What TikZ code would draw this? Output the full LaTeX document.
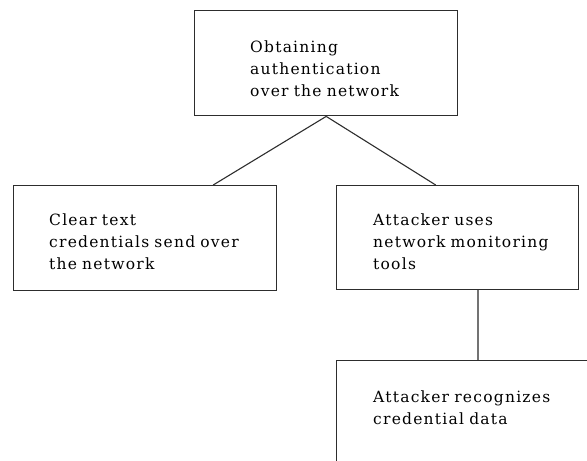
\documentclass[tikz,border=0pt]{standalone}
\usepackage{fontspec}
\setmainfont[LetterSpace=8]{DejaVu Serif}
\definecolor{edge}{RGB}{45,45,45}
\definecolor{stem}{RGB}{115,115,115}
\usepackage{tikz}

\begin{document}
\begin{tikzpicture}[
  box/.style={draw=edge, line width=1.4pt, anchor=north west, inner sep=0pt},
  txt/.style={anchor=base west, inner sep=0pt, text width=230pt, align=left,
    font=\fontsize{15.5}{22.3}\selectfont}]

  %% frame
  \useasboundingbox (0pt,0pt) rectangle (587pt,-461pt);
  \clip (0pt,0pt) rectangle (587pt,-461pt);

  %% boxes
  \node[box, minimum width=263pt, minimum height=105pt] (auth) at (194pt,-10pt) {};
  \node[box, minimum width=263pt, minimum height=105pt] (clear) at (13pt,-185pt) {};
  \node[box, minimum width=242pt, minimum height=104pt] (tools) at (336pt,-185pt) {};
  \node[box, minimum width=282pt, minimum height=140pt] (recog) at (336pt,-360pt) {};

  %% texts
  \node[txt, xshift=56pt, yshift=-42pt] (authtxt) at (auth.north west)
  {Obtaining\\authentication\\over the network};
  \node[txt, xshift=36pt, yshift=-40pt] (cleartxt) at (clear.north west)
  {Clear text\\credentials send over\\the network};
  \node[txt, xshift=37pt, yshift=-40pt] (toolstxt) at (tools.north west)
  {Attacker uses\\network monitoring\\tools};
  \node[txt, xshift=37pt, yshift=-42pt] (recogtxt) at (recog.north west)
  {Attacker recognizes\\credential data};

  %% links
  \draw[edge, line width=1.1pt] (auth.south) -- ([xshift=68pt]clear.north);
  \draw[edge, line width=1.1pt] (auth.south) -- ([xshift=-22pt]tools.north);
  \draw[stem, line width=2.2pt] (recog.north |- tools.south) -- (recog.north);

\end{tikzpicture}
\end{document}
